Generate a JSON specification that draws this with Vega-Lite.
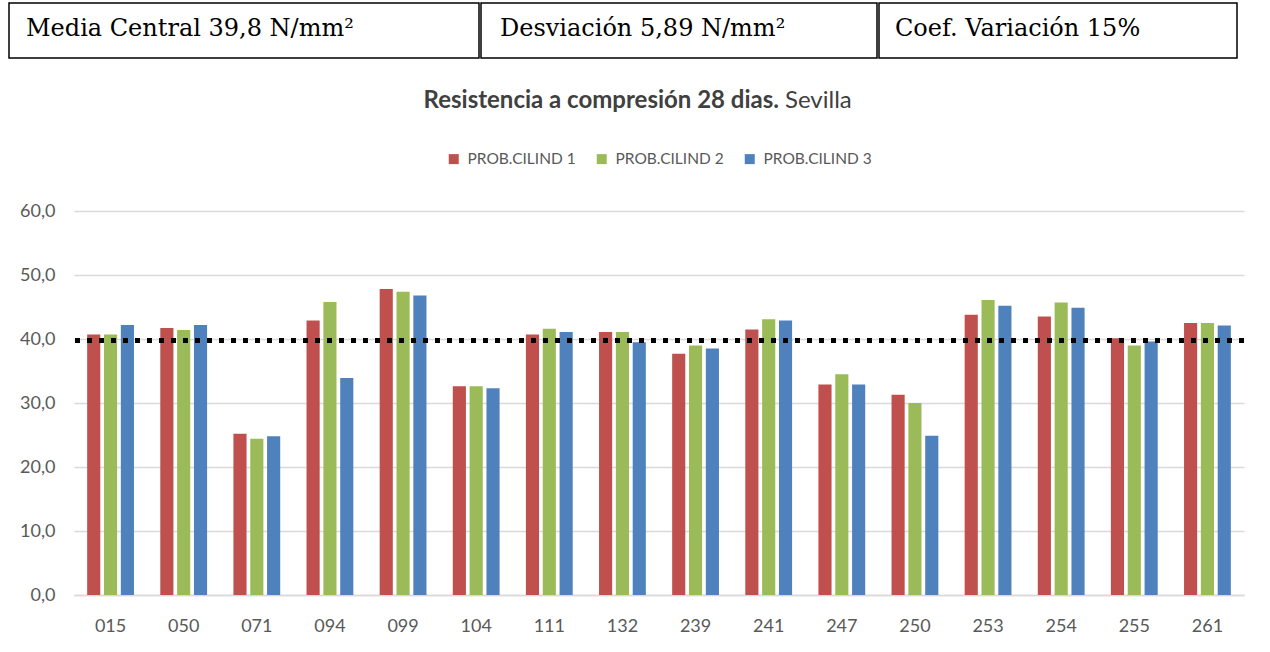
{
  "$schema": "https://vega.github.io/schema/vega-lite/v6.json",
  "padding": {"left": 8, "top": 2, "right": 0, "bottom": 0},
  "background": "white",
  "spacing": 30,
  "resolve": {"scale": {"color": "independent"}, "legend": {"color": "independent"}},
  "config": {
    "font": "Lato",
    "view": {"stroke": null},
    "legend": {"layout": {"top": {"anchor": "middle"}}}
  },
  "datasets": {
    "cells": [
      {"celda": "a", "texto": "Media Central 39,8 N/mm²"},
      {"celda": "b", "texto": "Desviación 5,89 N/mm²"},
      {"celda": "c", "texto": "Coef. Variación 15%"}
    ],
    "bars": [
      {"probeta": "015", "serie": "PROB.CILIND 1", "valor": 40.7},
      {"probeta": "015", "serie": "PROB.CILIND 2", "valor": 40.7},
      {"probeta": "015", "serie": "PROB.CILIND 3", "valor": 42.2},
      {"probeta": "050", "serie": "PROB.CILIND 1", "valor": 41.7},
      {"probeta": "050", "serie": "PROB.CILIND 2", "valor": 41.4},
      {"probeta": "050", "serie": "PROB.CILIND 3", "valor": 42.2},
      {"probeta": "071", "serie": "PROB.CILIND 1", "valor": 25.2},
      {"probeta": "071", "serie": "PROB.CILIND 2", "valor": 24.4},
      {"probeta": "071", "serie": "PROB.CILIND 3", "valor": 24.8},
      {"probeta": "094", "serie": "PROB.CILIND 1", "valor": 42.9},
      {"probeta": "094", "serie": "PROB.CILIND 2", "valor": 45.8},
      {"probeta": "094", "serie": "PROB.CILIND 3", "valor": 33.9},
      {"probeta": "099", "serie": "PROB.CILIND 1", "valor": 47.8},
      {"probeta": "099", "serie": "PROB.CILIND 2", "valor": 47.4},
      {"probeta": "099", "serie": "PROB.CILIND 3", "valor": 46.8},
      {"probeta": "104", "serie": "PROB.CILIND 1", "valor": 32.6},
      {"probeta": "104", "serie": "PROB.CILIND 2", "valor": 32.6},
      {"probeta": "104", "serie": "PROB.CILIND 3", "valor": 32.3},
      {"probeta": "111", "serie": "PROB.CILIND 1", "valor": 40.7},
      {"probeta": "111", "serie": "PROB.CILIND 2", "valor": 41.6},
      {"probeta": "111", "serie": "PROB.CILIND 3", "valor": 41.1},
      {"probeta": "132", "serie": "PROB.CILIND 1", "valor": 41.1},
      {"probeta": "132", "serie": "PROB.CILIND 2", "valor": 41.1},
      {"probeta": "132", "serie": "PROB.CILIND 3", "valor": 39.5},
      {"probeta": "239", "serie": "PROB.CILIND 1", "valor": 37.7},
      {"probeta": "239", "serie": "PROB.CILIND 2", "valor": 39.0},
      {"probeta": "239", "serie": "PROB.CILIND 3", "valor": 38.5},
      {"probeta": "241", "serie": "PROB.CILIND 1", "valor": 41.5},
      {"probeta": "241", "serie": "PROB.CILIND 2", "valor": 43.1},
      {"probeta": "241", "serie": "PROB.CILIND 3", "valor": 42.9},
      {"probeta": "247", "serie": "PROB.CILIND 1", "valor": 32.9},
      {"probeta": "247", "serie": "PROB.CILIND 2", "valor": 34.5},
      {"probeta": "247", "serie": "PROB.CILIND 3", "valor": 32.9},
      {"probeta": "250", "serie": "PROB.CILIND 1", "valor": 31.3},
      {"probeta": "250", "serie": "PROB.CILIND 2", "valor": 30.0},
      {"probeta": "250", "serie": "PROB.CILIND 3", "valor": 24.9},
      {"probeta": "253", "serie": "PROB.CILIND 1", "valor": 43.8},
      {"probeta": "253", "serie": "PROB.CILIND 2", "valor": 46.1},
      {"probeta": "253", "serie": "PROB.CILIND 3", "valor": 45.2},
      {"probeta": "254", "serie": "PROB.CILIND 1", "valor": 43.5},
      {"probeta": "254", "serie": "PROB.CILIND 2", "valor": 45.7},
      {"probeta": "254", "serie": "PROB.CILIND 3", "valor": 44.9},
      {"probeta": "255", "serie": "PROB.CILIND 1", "valor": 40.1},
      {"probeta": "255", "serie": "PROB.CILIND 2", "valor": 39.0},
      {"probeta": "255", "serie": "PROB.CILIND 3", "valor": 39.6},
      {"probeta": "261", "serie": "PROB.CILIND 1", "valor": 42.5},
      {"probeta": "261", "serie": "PROB.CILIND 2", "valor": 42.5},
      {"probeta": "261", "serie": "PROB.CILIND 3", "valor": 42.1}
    ]
  },
  "vconcat": [
    {
      "spacing": 0,
      "hconcat": [
        {
          "width": 470, "height": 55,
          "view": {"stroke": "black", "strokeWidth": 1.5},
          "data": {"name": "cells"},
          "transform": [{"filter": "datum.celda === 'a'"}],
          "mark": {"type": "text", "align": "left", "baseline": "middle", "dx": 17, "dy": -2, "font": "DejaVu Serif", "fontSize": 24, "color": "black"},
          "encoding": {
            "x": {"datum": 0, "type": "quantitative", "scale": {"domain": [0, 1]}, "axis": null},
            "text": {"field": "texto", "type": "nominal"}
          }
        },
        {
          "width": 396, "height": 55,
          "view": {"stroke": "black", "strokeWidth": 1.5},
          "data": {"name": "cells"},
          "transform": [{"filter": "datum.celda === 'b'"}],
          "mark": {"type": "text", "align": "left", "baseline": "middle", "dx": 19, "dy": -2, "font": "DejaVu Serif", "fontSize": 24, "color": "black"},
          "encoding": {
            "x": {"datum": 0, "type": "quantitative", "scale": {"domain": [0, 1]}, "axis": null},
            "text": {"field": "texto", "type": "nominal"}
          }
        },
        {
          "width": 358, "height": 55,
          "view": {"stroke": "black", "strokeWidth": 1.5},
          "data": {"name": "cells"},
          "transform": [{"filter": "datum.celda === 'c'"}],
          "mark": {"type": "text", "align": "left", "baseline": "middle", "dx": 16, "dy": -2, "font": "DejaVu Serif", "fontSize": 24, "color": "black"},
          "encoding": {
            "x": {"datum": 0, "type": "quantitative", "scale": {"domain": [0, 1]}, "axis": null},
            "text": {"field": "texto", "type": "nominal"}
          }
        }
      ]
    },
    {
      "spacing": 6,
      "hconcat": [
        {
          "width": 770, "height": 1,
          "data": {"values": []},
          "mark": "point",
          "title": {"text": "Resistencia a compresión 28 dias.", "anchor": "end", "fontSize": 24, "fontWeight": "bold", "color": "#404040", "font": "Lato", "offset": 7}
        },
        {
          "width": 400, "height": 1,
          "data": {"values": []},
          "mark": "point",
          "title": {"text": "Sevilla", "anchor": "start", "fontSize": 24, "fontWeight": "normal", "color": "#404040", "font": "Lato", "offset": 7}
        }
      ]
    },
    {
      "spacing": 0,
      "resolve": {"scale": {"color": "independent"}, "legend": {"color": "independent"}},
      "hconcat": [
        {
          "width": 1, "height": 1,
          "data": {"values": []},
          "mark": "point"
        },
        {
          "width": 1170,
          "height": 384,
          "data": {"name": "bars"},
          "layer": [
            {
              "mark": {"type": "bar"},
              "encoding": {
                "x": {
                  "field": "probeta", "type": "nominal", "title": null,
                  "scale": {"paddingInner": 0.36, "paddingOuter": 0.18},
                  "axis": {"labelAngle": 0, "ticks": false, "domain": true, "domainColor": "#d9d9d9", "domainWidth": 1.5, "labelPadding": 22, "labelFontSize": 18, "labelColor": "#595959", "labelFont": "Lato"}
                },
                "xOffset": {"field": "serie", "type": "nominal", "scale": {"paddingInner": 0.22}},
                "y": {
                  "field": "valor", "type": "quantitative", "title": null,
                  "scale": {"domain": [0, 60]},
                  "axis": {"values": [0, 10, 20, 30, 40, 50, 60], "labelExpr": "replace(format(datum.value, '.1f'), '.', ',')", "grid": true, "gridColor": "#d9d9d9", "gridWidth": 1.5, "domain": false, "ticks": false, "labelPadding": 19, "minExtent": 64, "labelFontSize": 18, "labelColor": "#595959", "labelFont": "Lato"}
                },
                "color": {
                  "field": "serie", "type": "nominal",
                  "scale": {"domain": ["PROB.CILIND 1", "PROB.CILIND 2", "PROB.CILIND 3"], "range": ["#C0504D", "#9BBB59", "#4F81BD"]},
                  "legend": {"orient": "top", "direction": "horizontal", "title": null, "symbolType": "square", "symbolSize": 100, "symbolStrokeWidth": 0, "labelFontSize": 15.5, "labelColor": "#595959", "labelFont": "Lato", "labelOffset": 6, "columnPadding": 18, "offset": 43}
                }
              }
            },
            {
              "mark": {"type": "rule", "color": "black", "strokeWidth": 4.5, "strokeDash": [4.5, 7.5]},
              "encoding": {"y": {"datum": 39.8}}
            }
          ]
        }
      ]
    }
  ]
}
